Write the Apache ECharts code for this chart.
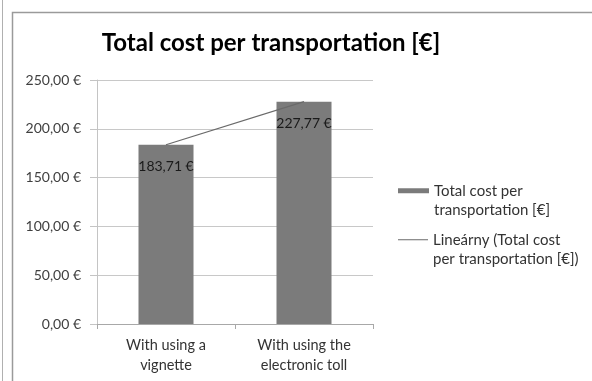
<!DOCTYPE html>
<html><head><meta charset="utf-8">
<script src="https://cdn.jsdelivr.net/npm/echarts@6/dist/echarts.min.js"></script>
<style>html,body{margin:0;padding:0;background:#fff}#c{width:592px;height:381px}</style>
</head><body><div id="c"></div>
<script>
const categories = ['With using a\nvignette', 'With using the\nelectronic toll'];
const costValues = [183.71, 227.77];
const yTicks = [0, 50, 100, 150, 200, 250];
const barName = 'Total cost per transportation [€]';
const trendName = 'Lineárny (Total cost per transportation [€])';

// linear trend (least squares) from the data
const n = costValues.length;
const xs = costValues.map((_, i) => i + 1);
const mx = xs.reduce((a, b) => a + b, 0) / n;
const my = costValues.reduce((a, b) => a + b, 0) / n;
let sxy = 0, sxx = 0;
xs.forEach((x, i) => { sxy += (x - mx) * (costValues[i] - my); sxx += (x - mx) * (x - mx); });
const slope = sxy / sxx, icpt = my - slope * mx;
const trendValues = xs.map(x => +(icpt + slope * x).toFixed(4));

const fmt = v => v.toFixed(2).replace('.', ',') + ' €';
const FONT = 'Lato';

const chart = echarts.init(document.getElementById('c'), null, {renderer: 'canvas'});
chart.setOption({
  animation: false,
  backgroundColor: '#fff',
  title: {
    text: 'Total cost per transportation [€]',
    left: 266, top: 26, textAlign: 'center',
    textStyle: {fontFamily: FONT, fontWeight: 'bold', fontSize: 24, color: '#000'}
  },
  graphic: [
    {type: 'line', shape: {x1: 2.5, y1: 0, x2: 2.5, y2: 381}, style: {stroke: '#b0b0b0', lineWidth: 1}},
    {type: 'polyline', shape: {points: [[12.5, 381], [12.5, 12.5], [592, 12.5]]}, style: {stroke: '#9a9a9a', lineWidth: 1.5, fill: null}}
  ],
  legend: [
    {
      data: [{name: barName, icon: 'rect'}],
      left: 398, top: 161.5, padding: 0, orient: 'vertical',
      itemWidth: 31, itemHeight: 5, itemGap: 0,
      formatter: () => ' \nTotal cost per\ntransportation [€]',
      textStyle: {fontFamily: FONT, fontSize: 15, color: '#333', lineHeight: 19.5}
    },
    {
      data: [{name: trendName, icon: 'rect', itemStyle: {color: '#6a6a6a'}}],
      left: 398, top: 210.5, padding: 0, orient: 'vertical',
      itemWidth: 30, itemHeight: 1, itemGap: 0,
      formatter: () => ' \nLineárny (Total cost\nper transportation [€])',
      textStyle: {fontFamily: FONT, fontSize: 15, color: '#333', lineHeight: 19.5}
    }
  ],
  grid: {left: 97, right: 219, top: 80, bottom: 57, containLabel: false},
  xAxis: {
    type: 'category', data: categories,
    boundaryGap: true,
    axisLine: {lineStyle: {color: '#a8a8a8', width: 1}},
    axisTick: {show: true, length: 5, lineStyle: {color: '#a8a8a8'}},
    axisLabel: {fontFamily: FONT, fontSize: 14.5, color: '#333', lineHeight: 20, margin: 11}
  },
  yAxis: {
    type: 'value', min: 0, max: 250, interval: 50,
    axisLine: {show: true, lineStyle: {color: '#c4c4c4'}},
    axisTick: {show: true, length: 7, lineStyle: {color: '#c4c4c4'}},
    splitLine: {lineStyle: {color: '#c8c8c8', width: 1}},
    axisLabel: {fontFamily: FONT, fontSize: 14, color: '#404040', margin: 16,
      formatter: v => yTicks.includes(v) ? fmt(v) : ''}
  },
  series: [
    {
      name: barName, type: 'bar', data: costValues, barWidth: 55,
      itemStyle: {color: '#7b7b7b'},
      label: {show: true, position: 'insideTop', distance: 15, formatter: p => fmt(p.value),
        fontFamily: FONT, fontSize: 14, color: '#1a1a1a'}
    },
    {
      name: trendName, type: 'line', data: trendValues, symbol: 'none',
      lineStyle: {color: '#6a6a6a', width: 1.2}, itemStyle: {color: '#6a6a6a'}, z: 5
    }
  ]
});
</script></body></html>
